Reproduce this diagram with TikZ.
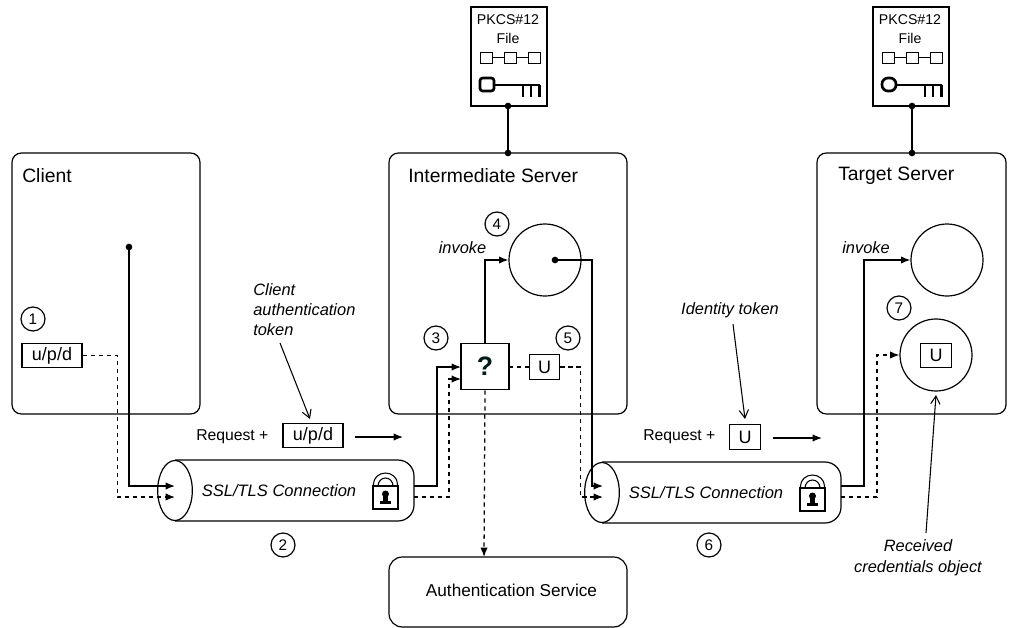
\documentclass[tikz,border=0pt]{standalone}
\usepackage{fontspec}
\setmainfont{Liberation Sans}
\usepackage{tikz}
\usetikzlibrary{positioning}
\usetikzlibrary{shapes.geometric}
\usetikzlibrary{arrows.meta}
\tikzset{>={Latex[length=7pt,width=5.5pt]}}
\tikzset{
  wall/.style={draw, line width=0.9pt},
  title/.style={anchor=west, inner sep=0pt, font=\fontsize{14.5}{17}\selectfont},
  note/.style={inner sep=0pt, align=center, font=\fontsize{12.3}{15}\selectfont\itshape},
  plain/.style={inner sep=0pt, font=\fontsize{11.8}{14}\selectfont},
  token/.style={wall, inner sep=0pt, minimum height=18.5pt, font=\fontsize{13.5}{15}\selectfont},
  stepnum/.style={wall, circle, inner sep=0pt, minimum size=18pt, font=\fontsize{11.5}{13}\selectfont},
  blob/.style={circle, fill=black, inner sep=0pt, minimum size=5pt},
  call/.style={->, line width=0.95pt},
  cred/.style={->, line width=0.95pt, dash pattern=on 3.2pt off 2.8pt},
  pointer/.style={-{Straight Barb[length=6pt,width=7pt]}, line width=0.8pt}
}

\begin{document}
\begin{tikzpicture}[x=0.75pt,y=-0.75pt]
\useasboundingbox (0,0) rectangle (1010,628);

% ---------- Servers ----------
\draw[wall,rounded corners=7pt] (12,153) rectangle (200,414);
\draw[wall,rounded corners=7pt] (389,153) rectangle (627,414);
\draw[wall,rounded corners=7pt] (817,153) rectangle (1006,414);
\draw[wall,rounded corners=10pt] (389,557) rectangle (627,627);
\node[title] (client) at (22,176) {Client};
\node[title] (middle) at (408,176) {Intermediate Server};
\node[title] (target) at (838,176) {Target Server};
\node[plain,font=\fontsize{12.9}{15}\selectfont] (authsvc) at (511.5,590) {Authentication Service};
\coordinate (authtop) at (484,557);

% ---------- PKCS#12 files ----------
\foreach \dx/\nm/\srvx/\ring in {0/a/508/2pt, 402/b/912/4.5pt} {
  \draw[wall] (471+\dx,7) rectangle (547+\dx,106);
  \node[plain,font=\fontsize{10.6}{13}\selectfont] (file\nm) at (508+\dx,20) {PKCS\#12};
  \node[plain,font=\fontsize{10.6}{13}\selectfont] (name\nm) at (508+\dx,38) {File};
  % chain
  \foreach \cx in {480,504,528}
    \draw[line width=0.7pt] (\cx+\dx,52) rectangle (\cx+\dx+12,63);
  \draw[line width=0.7pt] (492+\dx,57.5) -- (504+\dx,57.5);
  \draw[line width=0.7pt] (516+\dx,57.5) -- (528+\dx,57.5);
  % key
  \draw[line width=2pt,rounded corners=\ring] (480+\dx,78) rectangle (494+\dx,91);
  \draw[line width=1.3pt] (494+\dx,85) -- (540+\dx,85);
  \foreach \cx in {523,531,539.5}
    \draw[line width=1.6pt] (\cx+\dx,85) -- (\cx+\dx,97);
  % link to server
  \node[blob] (filedot\nm) at (\srvx,106) {};
  \node[blob] (srvdot\nm) at (\srvx,153) {};
  \draw[line width=0.9pt] (filedot\nm.center) -- (srvdot\nm.center);
}

% ---------- Tunnels ----------
\foreach \dx/\dy/\nm in {0/0/a, 427/2/b} {
  \draw[wall,rounded corners=12pt]
    (175+\dx,460+\dy) -- (414+\dx,460+\dy) -- (414+\dx,521+\dy) -- (175+\dx,521+\dy);
  \node[wall,ellipse,inner sep=0pt,minimum width=26pt,minimum height=45pt,fill=white]
    (tun\nm) at (175+\dx,490.5+\dy) {};
  \node[note,font=\fontsize{12.4}{15}\selectfont\itshape] (ssl\nm) at (279+\dx,491+\dy) {SSL/TLS Connection};
  % lock
  \draw[line width=0.9pt] (373+\dx,486+\dy) rectangle (398+\dx,509+\dy);
  \draw[line width=0.8pt] (373.5+\dx,486+\dy) -- (373.5+\dx,484+\dy) arc[start angle=180,end angle=360,x radius=12,y radius=11] -- (397.5+\dx,486+\dy);
  \draw[line width=0.8pt] (378+\dx,486+\dy) arc[start angle=180,end angle=360,x radius=7.5,y radius=8];
  \fill (385.5+\dx,494+\dy) circle (3.5);
  \fill (383+\dx,494+\dy) rectangle (388+\dx,503+\dy);
  \fill (380+\dx,501+\dy) rectangle (391+\dx,504+\dy);
}
\coordinate (aincall) at (175,486);
\coordinate (aincred) at (175,497);
\coordinate (aoutcall) at (414,486);
\coordinate (aoutcred) at (414,497);
\coordinate (bincall) at (603,486);
\coordinate (bincred) at (603,497);
\coordinate (boutcall) at (841,486);
\coordinate (boutcred) at (841,497);

% ---------- Inside the servers ----------
\node[blob] (clientdot) at (129,247) {};
\node[token,minimum width=45pt] (upd) at (52,355.5) {u/p/d};
\node[wall,inner sep=0pt,minimum width=36pt,minimum height=35pt,font=\fontsize{20}{22}\selectfont\bfseries,text=black!80!teal] (check) at (485,366.5) {?};
\node[token,minimum width=23pt] (usr) at (544.5,367) {U};
\node[wall,circle,inner sep=0pt,minimum size=54pt] (stub) at (545,260) {};
\node[blob] (stubdot) at (555,260) {};
\node[wall,circle,inner sep=0pt,minimum size=54pt] (impl) at (947,260) {};
\node[wall,circle,inner sep=0pt,minimum size=54pt] (creds) at (936,355) {};
\node[token,minimum width=23pt] (credu) at (936,355.5) {U};
\node[note] (invokea) at (462.5,248) {invoke};
\node[note] (invokeb) at (866,248) {invoke};

% ---------- Step numbers ----------
\node[stepnum] (one) at (33,319) {1};
\node[stepnum] (two) at (283,545) {2};
\node[stepnum] (three) at (436,338) {3};
\node[stepnum] (four) at (497,224) {4};
\node[stepnum] (five) at (568,338) {5};
\node[stepnum] (six) at (709,545) {6};
\node[stepnum] (seven) at (899,308) {7};

% ---------- Connections ----------
\coordinate (qincall) at (461,367);
\coordinate (qincred) at (461,379);
\coordinate (qoutcred) at (509,367);
\draw[call] (clientdot.center) |- (aincall);
\draw[cred] (upd.east) -- ++(35,0) |- (aincred);
\draw[call] (aoutcall) -- ++(23,0) |- (qincall);
\draw[cred] (aoutcred) -- ++(35,0) |- (qincred);
\draw[call] (check.north) |- (stub.west);
\draw[cred,-] (qoutcred) -- (usr.west);
\draw[cred] (check.south) -- (authtop);
\draw[call] (stubdot.center) -- ++(37,0) |- (bincall);
\draw[cred] (usr.east) -- ++(20,0) |- (bincred);
\draw[call] (boutcall) -- ++(23,0) |- (impl.west);
\draw[cred] (boutcred) -- ++(36,0) |- (creds.west);

% ---------- Request labels ----------
\node[plain,anchor=west] (reqa) at (196,437) {Request +};
\node[token,minimum width=45pt] (tokena) at (313,435.5) {u/p/d};
\coordinate (reqafrom) at (355,437);
\coordinate (reqato) at (403,437);
\draw[call] (reqafrom) -- (reqato);
\node[plain,anchor=west] (reqb) at (643,437) {Request +};
\node[token,minimum width=23pt] (tokenb) at (745,437) {U};
\coordinate (reqbfrom) at (773,438);
\coordinate (reqbto) at (822,438);
\draw[call] (reqbfrom) -- (reqbto);

% ---------- Notes ----------
\node[note,align=left,anchor=north west] (clientnote) at (253,283) {Client\\authentication\\token};
\node[note] (idnote) at (730,310) {Identity token};
\node[note,font=\fontsize{12.3}{16}\selectfont\itshape] (recnote) at (918,558) {Received\\credentials object};
\coordinate (clientfrom) at (280,343);
\coordinate (clientto) at (310,419);
\coordinate (idfrom) at (733,324);
\coordinate (idto) at (745,419);
\coordinate (recfrom) at (926,533);
\coordinate (recto) at (936,395);
\draw[pointer] (clientfrom) -- (clientto);
\draw[pointer] (idfrom) -- (idto);
\draw[pointer] (recfrom) -- (recto);

\end{tikzpicture}
\end{document}
